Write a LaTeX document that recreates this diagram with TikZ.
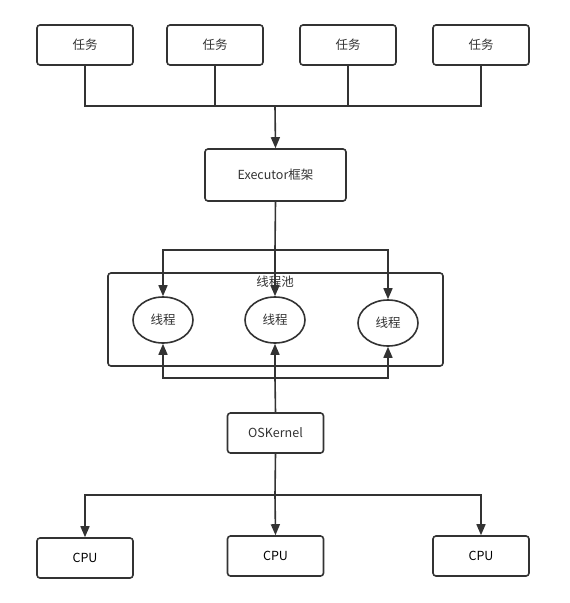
\documentclass[tikz,border=0pt]{standalone}
\usepackage{fontspec}
\setmainfont{Noto Sans CJK SC}
\usepackage{xcolor}
\usetikzlibrary{arrows.meta}
\usetikzlibrary{shapes.geometric}
\definecolor{ink}{HTML}{333333}
\tikzstyle{box} = [draw=ink,line width=1.6pt,rounded corners=3pt,minimum width=96pt,minimum height=40pt,text=ink,font=\fontsize{12.5}{14}\selectfont]
\tikzstyle{thread} = [draw=ink,line width=1.6pt,ellipse,minimum width=60pt,minimum height=46pt,inner sep=0pt,text=ink,font=\fontsize{12.5}{14}\selectfont]
\tikzstyle{link} = [draw=ink,line width=1.6pt]
\tikzstyle{arrow} = [link,-{Triangle[length=11pt,width=9pt]}]

\begin{document}
\begin{tikzpicture}[x=1pt,y=-1pt]
  \useasboundingbox (0,0) rectangle (570,603);
  % tasks
  \node[box] (t1) at (85,45) {任务};
  \node[box] (t2) at (215,45) {任务};
  \node[box] (t3) at (348,45) {任务};
  \node[box] (t4) at (481,45) {任务};
  \node[box,minimum width=141pt,minimum height=52pt] (exec) at (275.5,175) {Executor框架};
  % thread pool
  \node[draw=ink,line width=1.6pt,rounded corners=3pt,minimum width=335pt,minimum height=93pt] (pool) at (275.5,319.5) {};
  \node[text=ink,font=\fontsize{12.5}{14}\selectfont] (poollabel) at (275,282) {线程池};
  \node[thread] (th1) at (163,320) {线程};
  \node[thread] (th2) at (275,320) {线程};
  \node[thread] (th3) at (388,323) {线程};
  \node[box] (os) at (275.5,433) {OSKernel};
  % cpus
  \node[box,text=black] (cpu1) at (85,558) {CPU};
  \node[box,text=black] (cpu2) at (275.5,556) {CPU};
  \node[box,text=black] (cpu3) at (481,556) {CPU};

  \coordinate (bus) at (275,106);
  \coordinate (split) at (275,250);
  \coordinate (join) at (275,378);
  \coordinate (fork) at (275,495);

  \draw[link] (t1.south) |- (bus);
  \draw[link] (t2.south) |- (bus);
  \draw[link] (t3.south) |- (bus);
  \draw[link] (t4.south) |- (bus);
  \draw[arrow] (bus) -- (exec.north);

  \draw[link] (exec.south) -- (split);
  \draw[arrow] (split) -| (th1.north);
  \draw[arrow] (split) -- (th2.north);
  \draw[arrow] (split) -| (th3.north);

  \draw[link] (os.north) -- (join);
  \draw[arrow] (join) -| (th1.south);
  \draw[arrow] (join) -- (th2.south);
  \draw[arrow] (join) -| (th3.south);

  \draw[link] (os.south) -- (fork);
  \draw[arrow] (fork) -| (cpu1.north);
  \draw[arrow] (fork) -- (cpu2.north);
  \draw[arrow] (fork) -| (cpu3.north);
\end{tikzpicture}
\end{document}
